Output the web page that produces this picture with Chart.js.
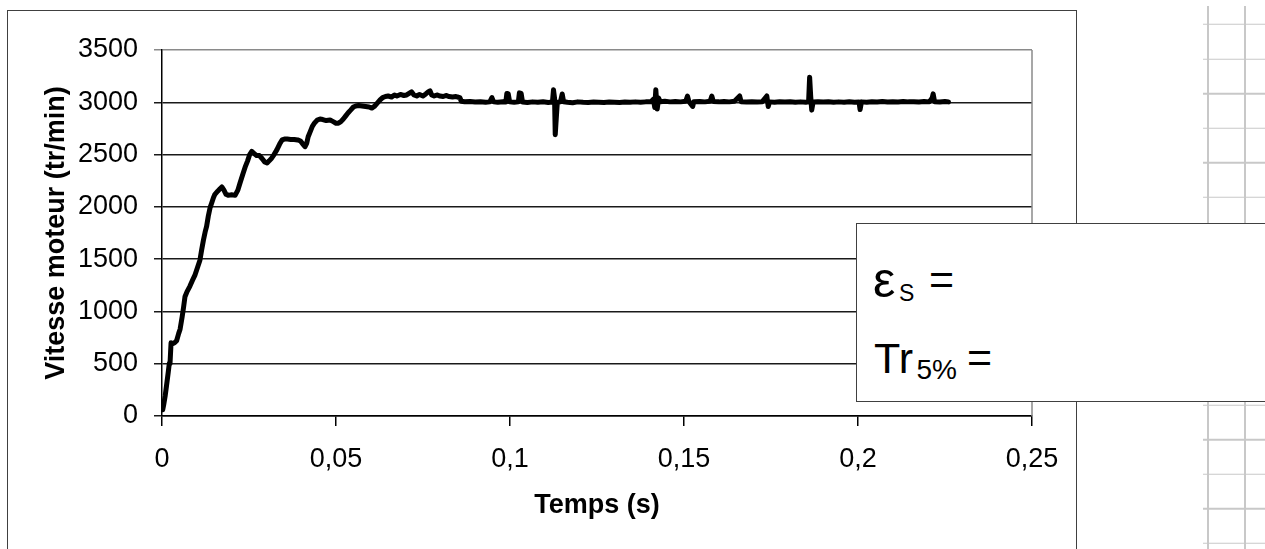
<!DOCTYPE html>
<html><head><meta charset="utf-8">
<script src="https://cdn.jsdelivr.net/npm/chart.js@4"></script>
<style>
html,body{margin:0;padding:0;background:#fff;width:1265px;height:549px;overflow:hidden;position:relative;font-family:'Liberation Sans',Arial,sans-serif;color:#000;}
#frame{position:absolute;left:7px;top:10px;width:1070px;height:600px;border:1.5px solid #404040;box-sizing:border-box;}
#c{position:absolute;left:0;top:0;}
#sheet{position:absolute;left:1203px;top:6px;width:62px;height:543px;
 background-image:repeating-linear-gradient(to bottom,#c8c8c8 0,#c8c8c8 1.5px,transparent 1.5px,transparent 34.6px);
 background-position:0 17.75px;}
.vl{position:absolute;top:6px;width:1.5px;height:543px;background:#c8c8c8;}
#box{position:absolute;left:856px;top:223px;width:520px;height:179px;border:1.5px solid #404040;box-sizing:border-box;background:#fff;}
.t{position:absolute;line-height:1;white-space:pre;font-family:'Liberation Sans',Arial,sans-serif;}
</style></head>
<body>
<div id="sheet"></div>
<div class="vl" style="left:1207px"></div>
<div class="vl" style="left:1244px"></div>
<div id="frame"></div>
<canvas id="c" width="1265" height="549"></canvas>
<div id="box"></div>
<div class="t" style="left:873px;top:254.5px;font-size:50px">ε</div>
<div class="t" style="left:899px;top:282px;font-size:23px">S</div>
<div class="t" style="left:929px;top:257.5px;font-size:43px">=</div>
<div class="t" style="left:874px;top:336.5px;font-size:43px">Tr</div>
<div class="t" style="left:916.5px;top:356.3px;font-size:28px">5%</div>
<div class="t" style="left:967px;top:335.5px;font-size:43px">=</div>
<script>
const timeS = [
0.0002,0.0005,0.0009,0.0013,0.0018,0.0021,0.0023,0.0026,0.0030,0.0036,0.0042,0.0048,0.0052,0.0058,0.0062,0.0066,0.0072,0.0080,0.0088,0.0095,
0.0102,0.0109,0.0114,0.0119,0.0124,0.0128,0.0133,0.0138,0.0143,0.0148,0.0152,0.0160,0.0166,0.0172,0.0178,0.0184,0.0190,0.0200,0.0210,0.0218,
0.0224,0.0232,0.0240,0.0246,0.0252,0.0258,0.0265,0.0272,0.0280,0.0288,0.0295,0.0302,0.0308,0.0315,0.0322,0.0330,0.0338,0.0345,0.0352,0.0360,
0.0370,0.0380,0.0390,0.0398,0.0405,0.0411,0.0416,0.0420,0.0426,0.0432,0.0438,0.0446,0.0454,0.0462,0.0472,0.0483,0.0492,0.0500,0.0507,0.0514,
0.0521,0.0528,0.0535,0.0542,0.0550,0.0557,0.0565,0.0575,0.0585,0.0595,0.0603,0.0610,0.0618,0.0626,0.0634,0.0642,0.0650,0.0660,0.0668,0.0675,
0.0685,0.0695,0.0703,0.0710,0.0717,0.0724,0.0732,0.0740,0.0750,0.0758,0.0765,0.0770,0.0775,0.0782,0.0790,0.0799,0.0808,0.0816,0.0825,0.0835,
0.0845,0.0852,0.0856,0.0860,0.0870,0.0885,0.0900,0.0915,0.0930,0.0942,0.0948,0.0953,0.0965,0.0980,0.0988,0.0991,0.0995,0.0999,0.1012,0.1024,
0.1027,0.1032,0.1036,0.1050,0.1065,0.1080,0.1095,0.1110,0.1122,0.1125,0.1128,0.1130,0.1133,0.1136,0.1145,0.1150,0.1154,0.1165,0.1180,0.1195,
0.1210,0.1225,0.1240,0.1255,0.1270,0.1285,0.1300,0.1315,0.1330,0.1345,0.1360,0.1375,0.1390,0.1405,0.1412,0.1416,0.1419,0.1423,0.1427,0.1432,
0.1445,0.1460,0.1475,0.1490,0.1505,0.1510,0.1514,0.1525,0.1528,0.1545,0.1560,0.1575,0.1580,0.1584,0.1600,0.1615,0.1630,0.1645,0.1660,0.1664,
0.1680,0.1695,0.1710,0.1725,0.1738,0.1742,0.1746,0.1760,0.1775,0.1790,0.1805,0.1820,0.1835,0.1850,0.1858,0.1861,0.1864,0.1867,0.1871,0.1885,
0.1900,0.1915,0.1930,0.1945,0.1960,0.1975,0.1990,0.2003,0.2006,0.2010,0.2025,0.2040,0.2055,0.2070,0.2085,0.2100,0.2115,0.2130,0.2145,0.2160,
0.2175,0.2190,0.2205,0.2213,0.2216,0.2220,0.2235,0.2250,0.2260
];
const speedRpm = [
60,110,190,290,420,505,500,700,690,700,720,790,830,950,1040,1140,1190,1240,1300,1350,
1420,1490,1590,1680,1760,1810,1910,1990,2040,2090,2120,2150,2170,2190,2160,2120,2110,2115,2110,2160,
2225,2310,2390,2440,2500,2530,2510,2490,2490,2460,2430,2420,2440,2465,2500,2545,2600,2640,2648,2648,
2645,2645,2640,2630,2600,2575,2610,2670,2720,2770,2800,2830,2840,2835,2825,2830,2815,2800,2800,2815,
2840,2870,2900,2925,2955,2965,2970,2965,2960,2955,2945,2960,2990,3020,3045,3055,3060,3050,3070,3060,
3075,3065,3070,3085,3100,3070,3060,3075,3060,3080,3100,3110,3070,3060,3070,3060,3055,3065,3055,3050,
3055,3048,3045,3010,3005,3008,3002,3006,3000,3004,3045,3004,3000,3006,3002,3085,3080,3004,3000,3004,
3090,3085,3002,2998,3004,3000,3005,2998,3002,3120,3040,2690,2850,3000,3004,3080,3005,3000,2996,3004,
3000,2998,3002,3000,2998,3002,3000,2998,3002,3000,3004,3000,3004,3006,3030,2950,3120,2935,3040,3005,
3010,3004,3008,3004,3010,3060,3008,2960,3006,3008,3004,3010,3060,3008,3004,3008,3004,3010,3060,3006,
3002,3006,3002,3006,3060,2960,3004,3000,3006,3002,3006,3000,3004,3000,3004,3240,3060,2925,3002,3006,
3002,3006,3000,3004,3000,3006,3000,3002,2930,3004,3000,3006,3002,3008,3002,3006,3002,3008,3004,3006,
3002,3008,3004,3040,3080,3006,3002,3008,3004
];
const xTickLabels = ['0','0,05','0,1','0,15','0,2','0,25'];
const yTickLabels = ['0','500','1000','1500','2000','2500','3000','3500'];
const xTitle = 'Temps (s)';
const yTitle = 'Vitesse moteur (tr/min)';

const FONT = "'Liberation Sans', Arial, sans-serif";

const plotBorder = {
  id:'plotBorder',
  beforeDatasetsDraw(chart){
    const {ctx, chartArea:a} = chart;
    ctx.save();
    ctx.strokeStyle = '#8a8a8a';
    ctx.lineWidth = 1.5;
    ctx.beginPath();
    ctx.moveTo(a.right, a.top);
    ctx.lineTo(a.right, a.bottom);
    ctx.stroke();
    ctx.restore();
  }
};

new Chart(document.getElementById('c'), {
  type:'line',
  data:{datasets:[{
    data: timeS.map((t,i)=>({x:t, y:speedRpm[i]})),
    borderColor:'#000', borderWidth:5, pointRadius:0, tension:0, fill:false,
    borderJoinStyle:'round', borderCapStyle:'round'
  }]},
  options:{
    responsive:false, animation:false, devicePixelRatio:1,
    layout:{padding:{left:0, top:50, right:233, bottom:0}},
    plugins:{legend:{display:false}, tooltip:{enabled:false}},
    scales:{
      x:{
        type:'linear', min:0, max:0.25,
        afterFit(s){ s.height = 133; },
        ticks:{stepSize:0.05, autoSkip:false, maxRotation:0, color:'#000', padding:17,
          font:{family:FONT, size:27},
          callback:(v,i)=>xTickLabels[i]},
        grid:{drawOnChartArea:false, color:'#000', lineWidth:1.5, tickLength:10},
        border:{color:'#000', width:1.5},
        title:{display:true, text:xTitle, color:'#000', font:{family:FONT, size:27, weight:'bold'}, padding:{top:0, bottom:27}}
      },
      y:{
        min:0, max:3500,
        afterFit(s){ s.width = 162; },
        ticks:{stepSize:500, color:'#000', padding:16, font:{family:FONT, size:27},
          callback:(v,i)=>yTickLabels[i]},
        grid:{color:(c)=> (c.tick && c.tick.value===3500) ? '#8a8a8a' : '#1a1a1a', lineWidth:1.5, tickLength:8},
        border:{color:'#000', width:1.5},
        title:{display:true, text:yTitle, color:'#000', font:{family:FONT, size:27, weight:'bold'}, padding:{top:40, bottom:0}}
      }
    }
  },
  plugins:[plotBorder]
});
</script>
</body></html>
